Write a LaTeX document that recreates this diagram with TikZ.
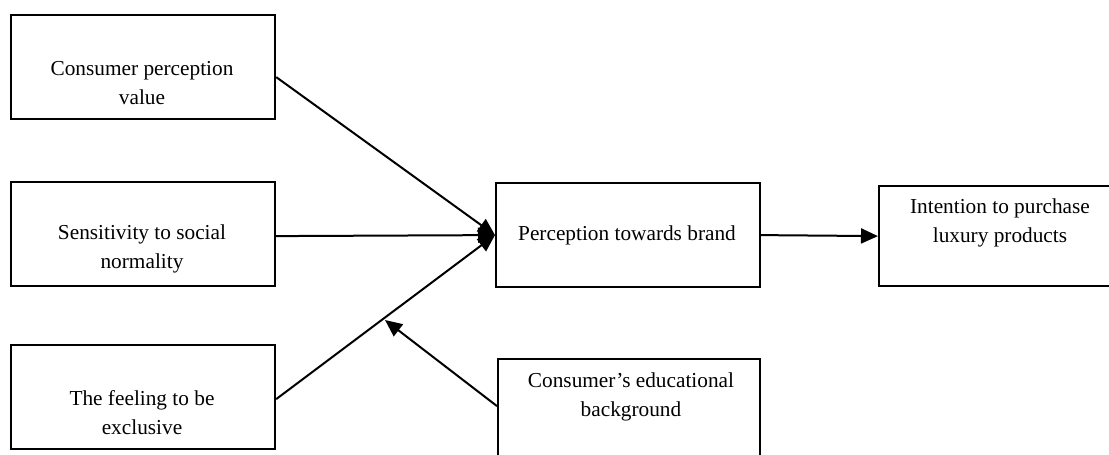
\documentclass[tikz,border=0pt]{standalone}
\usepackage{fontspec}
\setmainfont{Liberation Serif}
\usetikzlibrary{arrows.meta}
\begin{document}
\begin{tikzpicture}[x=1pt,y=-1pt,
  box/.style={draw,line width=2.2pt,inner sep=0pt,minimum width=264pt,minimum height=104pt,anchor=north west},
  txt/.style={font=\fontsize{21.3}{29}\selectfont,align=center,inner sep=0pt},
  conn/.style={line width=2pt,-{Triangle[length=17pt,width=15pt]}}]
\useasboundingbox (0,0) rectangle (1109,455);
\clip (0,0) rectangle (1109,455);
\node[box] (b1) at (10,14) {};
\node[box] (b2) at (10,181) {};
\node[box] (b3) at (10,344) {};
\node[box] (bc) at (495,182) {};
\node[box,minimum width=244pt,minimum height=100pt] (br) at (878,185) {};
\node[box,minimum width=262pt,minimum height=120pt] (bb) at (497,358) {};
\node[txt] (t1) at (142,83) {Consumer perception\\value};
\node[txt] (t2) at (142,249) {Sensitivity to social\\normality};
\node[txt] (t3) at (142,413) {The feeling to be\\exclusive};
\node[txt] (tc) at (627,235) {Perception towards brand};
\node[txt] (tr) at (1000,223) {Intention to purchase\\luxury products};
\node[txt] (tb) at (631,397) {Consumer’s educational\\background};
\coordinate (m) at (385,320);
\draw[conn] ([yshift=-10pt]b1.east) -- (bc.west);
\draw[conn] ([yshift=-2pt]b2.east) -- (bc.west);
\draw[conn] ([yshift=-2pt]b3.east) -- (bc.west);
\draw[conn] (bc.east) -- (br.west);
\draw[conn] ([yshift=13pt]bb.west) -- (m);
\end{tikzpicture}
\end{document}
